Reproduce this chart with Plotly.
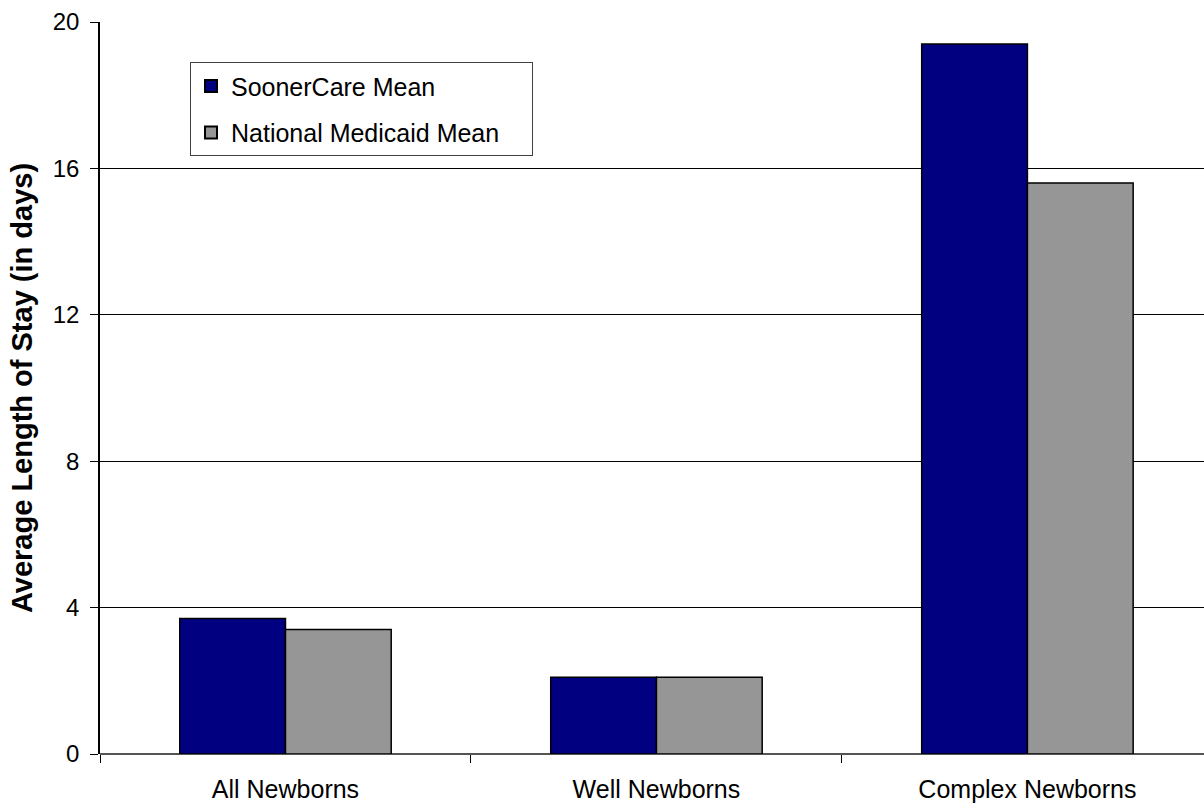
import plotly.graph_objects as go

categories = ["All Newborns", "Well Newborns", "Complex Newborns"]
soonercare_mean = [3.7, 2.1, 19.4]
national_medicaid_mean = [3.4, 2.1, 15.6]
y_ticks = [0, 4, 8, 12, 16, 20]

FONT = "Liberation Sans, Arial, sans-serif"
PAD = "\u00a0" * 4  # widens the legend box a little on the right

fig = go.Figure()
fig.add_trace(go.Bar(
    x=categories, y=soonercare_mean, name="SoonerCare Mean" + PAD,
    marker=dict(color="#000080", line=dict(color="#000000", width=1.5)),
    legendgroup="a",
))
fig.add_trace(go.Bar(
    x=categories, y=national_medicaid_mean, name="National Medicaid Mean" + PAD,
    marker=dict(color="#969696", line=dict(color="#000000", width=1.5)),
    legendgroup="b",
))

fig.update_layout(
    width=1204, height=803,
    margin=dict(l=100, r=0, t=22, b=49),
    paper_bgcolor="white", plot_bgcolor="white",
    barmode="group", bargap=0.43, bargroupgap=0,
    font=dict(family=FONT, size=24, color="#000000"),
    showlegend=True,
    legend=dict(
        x=0.0815, y=0.945, xanchor="left", yanchor="top",
        bgcolor="white", bordercolor="#404040", borderwidth=1,
        font=dict(family=FONT, size=25, color="#000000"),
        traceorder="grouped", tracegroupgap=11,
        itemsizing="constant",
    ),
)

fig.update_xaxes(
    type="category", range=[-0.5, 2.476],
    showline=False, showgrid=False, zeroline=False,
    ticks="outside", tickson="boundaries", ticklen=8, tickcolor="#000000",
    tickfont=dict(family=FONT, size=25), ticklabelstandoff=18,
)
fig.update_yaxes(
    range=[0, 20], tickvals=y_ticks,
    showline=True, linecolor="#000000", linewidth=1.5,
    showgrid=True, gridcolor="#000000", gridwidth=1,
    zeroline=True, zerolinecolor="#555555", zerolinewidth=2,
    ticks="outside", ticklen=8, tickcolor="#000000",
    tickfont=dict(family=FONT, size=24), ticklabelstandoff=6,
    title=dict(text="<b>Average Length of Stay (in days)</b>",
               font=dict(family=FONT, size=29), standoff=12),
)

fig.write_html("out.html")
